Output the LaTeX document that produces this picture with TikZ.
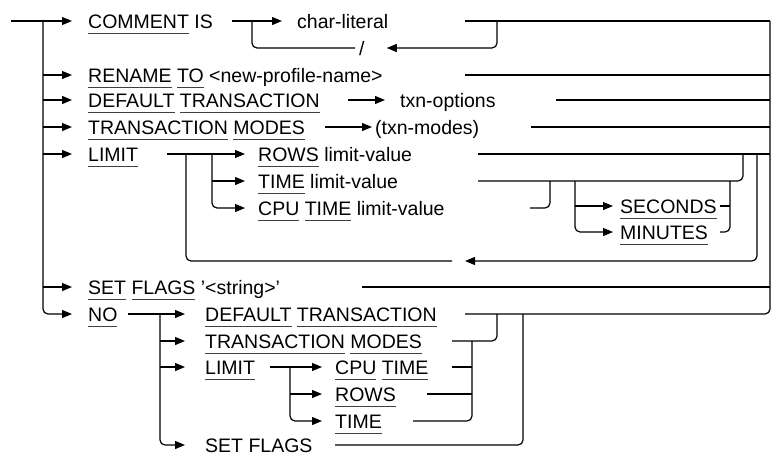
\documentclass[tikz,border=0pt]{standalone}
\usepackage{fontspec}
\setmainfont{Liberation Sans}
\usetikzlibrary{arrows.meta, positioning}

\newcommand{\kw}[1]{\setbox0\hbox{#1}\rlap{\color{black!75}\rule[-6pt]{\wd0}{0.7pt}}\box0\relax}

\tikzset{
  rail/.style={line width=1.2pt, rounded corners=5pt},
  go/.style={rail, -{Triangle[length=10pt, width=8pt]}},
  word/.style={anchor=west, inner sep=0pt, text height=14pt, text depth=0pt},
}

\begin{document}
\begin{tikzpicture}[x=1pt, y=-1pt, font=\fontsize{19.5}{21}\selectfont]
  \useasboundingbox (0,0) rectangle (774,455);

  \node[word] (cmt)  at (88,21)   {\kw{COMMENT} IS};
  \node[word] (chr)  at (297,21)  {char-literal};
  \node[word] (sl)   at (359,48)  {/};
  \node[word] (ren)  at (88,75)   {\kw{RENAME} \kw{TO} <new-profile-name>};
  \node[word] (dft)  at (88,100)  {\kw{DEFAULT} \kw{TRANSACTION}};
  \node[word] (txo)  at (400,100) {txn-options};
  \node[word] (mod)  at (88,127)  {\kw{TRANSACTION} \kw{MODES}};
  \node[word] (txm)  at (375,127) {(txn-modes)};
  \node[word] (lim)  at (88,154)  {\kw{LIMIT}};
  \node[word] (rows) at (258,154) {\kw{ROWS} limit-value};
  \node[word] (time) at (258,181) {\kw{TIME} limit-value};
  \node[word] (cpu)  at (258,208) {\kw{CPU} \kw{TIME} limit-value};
  \node[word] (sec)  at (620,206) {\kw{SECONDS}};
  \node[word] (min)  at (620,232) {\kw{MINUTES}};
  \node[word] (set)  at (88,287)  {\kw{SET} \kw{FLAGS} '<string>'};
  \node[word] (no)   at (88,314)  {\kw{NO}};
  \node[word] (ndt)  at (205,314) {\kw{DEFAULT} \kw{TRANSACTION}};
  \node[word] (nmd)  at (205,341) {\kw{TRANSACTION} \kw{MODES}};
  \node[word] (nlm)  at (205,367) {\kw{LIMIT}};
  \node[word] (ncp)  at (335,367) {\kw{CPU} \kw{TIME}};
  \node[word] (nrw)  at (335,394) {\kw{ROWS}};
  \node[word] (ntm)  at (335,421) {\kw{TIME}};
  \node[word] (nsf)  at (205,445) {SET FLAGS};

  \coordinate (in)   at (11,21);
  \coordinate (lt)   at (43,21);
  \coordinate (rt)   at (770,21);
  \coordinate (back) at (465,261);

  % left trunk
  \draw[go] (in) -- ([xshift=-16pt]cmt.west);
  \draw[go] (lt) |- ([xshift=-16pt]no.west);
  \foreach \n in {ren,dft,mod,lim,set}
    \draw[go] (lt |- \n.west) -- ([xshift=-16pt]\n.west);

  % comment
  \draw[go] (cmt.east -| 232,0) -- ([xshift=-15pt]chr.west);
  \draw[rail] (chr.east -| 465,0) -- (rt);
  \draw[go] (chr.east -| 497,0) |- ([xshift=22pt]sl.east);
  \draw[rail] ([xshift=-4pt]sl.west) -| (cmt.east -| 252,0);

  % single rows
  \draw[rail] (ren.east -| 465,0) -- (ren.east -| rt);
  \draw[go] (dft.east -| 348,0) -- ([xshift=-15pt]txo.west);
  \draw[rail] (txo.east -| 556,0) -- (txo.east -| rt);
  \draw[go] (mod.east -| 325,0) -- ([xshift=-3pt]txm.west);
  \draw[rail] (txm.east -| 531,0) -- (txm.east -| rt);
  \draw[rail] (set.east -| 362,0) -- (set.east -| rt);
  \draw[rail] (ndt.east -| 465,0) -| (rt);

  % limit
  \draw[go] (lim.east -| 167,0) -- ([xshift=-13pt]rows.west);
  \draw[go] (time.west -| 212,0) -- ([xshift=-13pt]time.west);
  \draw[go] (lim.east -| 212,0) |- ([xshift=-13pt]cpu.west);
  \draw[rail] (rows.east -| 478,0) -- (rows.east -| rt);
  \draw[rail] (time.east -| 478,0) -| (rows.east -| 743,0);
  \draw[rail] (cpu.east -| 530,0) -| (time.east -| 550,0);
  \draw[go] (sec.west -| 575,0) -- ([xshift=-7pt]sec.west);
  \draw[go] (time.east -| 575,0) |- ([xshift=-7pt]min.west);
  \draw[rail] (sec.east -| 720,0) -- (sec.east -| 730,0);
  \draw[rail] (time.east -| 730,0) |- (min.east -| 720,0);
  \draw[go] (rows.east -| 757,0) |- (back);
  \draw[rail] ([xshift=-13pt]back) -| (lim.east -| 186,0);

  % no
  \draw[go] (no.east -| 128,0) -- ([xshift=-20pt]ndt.west);
  \draw[go] (no.east -| 160,0) |- ([xshift=-20pt]nsf.west);
  \foreach \n in {nmd,nlm}
    \draw[go] (\n.west -| 160,0) -- ([xshift=-20pt]\n.west);
  \draw[rail] (nmd.east -| 452,0) -| (ndt.east -| 497,0);
  \draw[rail] (nsf.east -| 335,0) -| (ndt.east -| 523,0);
  \draw[go] (nlm.east -| 270,0) -- ([xshift=-13pt]ncp.west);
  \draw[go] (nrw.west -| 290,0) -- ([xshift=-13pt]nrw.west);
  \draw[go] (nlm.east -| 290,0) |- ([xshift=-13pt]ntm.west);
  \draw[rail] (ncp.east -| 452,0) -- (ncp.east -| 472,0);
  \draw[rail] (nrw.east -| 427,0) -- (nrw.east -| 472,0);
  \draw[rail] (ntm.east -| 413,0) -| (nmd.east -| 472,0);
\end{tikzpicture}
\end{document}
